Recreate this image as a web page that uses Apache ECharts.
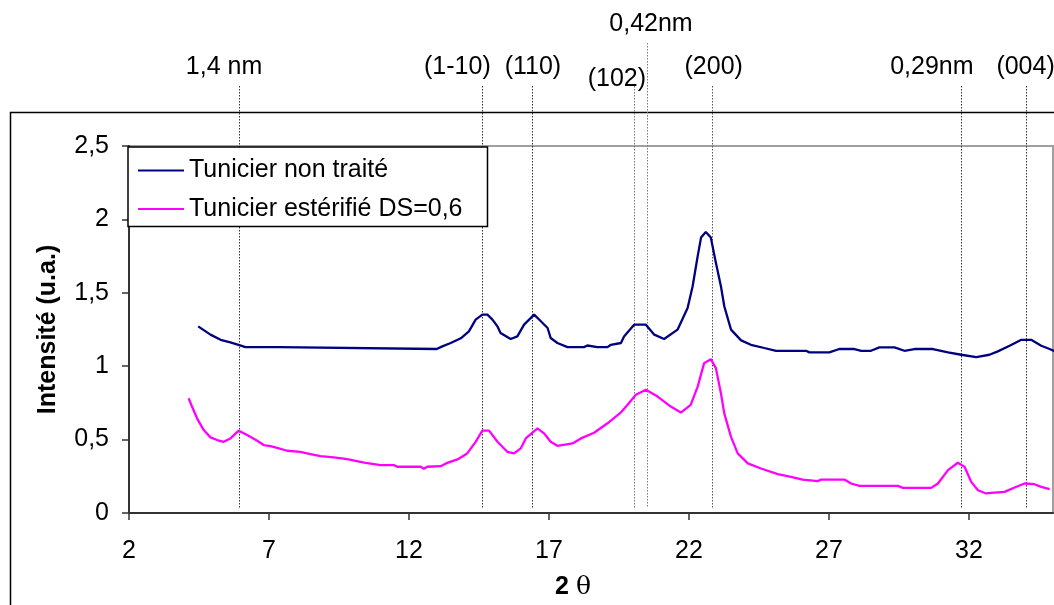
<!DOCTYPE html>
<html>
<head>
<meta charset="utf-8">
<script src="https://cdn.jsdelivr.net/npm/echarts@6/dist/echarts.min.js"></script>
<style>
html,body{margin:0;padding:0;background:#fff;}
#chart{width:1054px;height:605px;}
</style>
</head>
<body>
<div id="chart"></div>
<script>
// ---- data ----
var seriesNames = ['Tunicier non traité', 'Tunicier estérifié DS=0,6'];
var nonTraite = [[4.47,1.271],[4.91,1.215],[5.27,1.18],[5.62,1.162],[5.94,1.144],[6.16,1.13],[7.35,1.13],[7.41,1.117],[12.99,1.117],[13.19,1.135],[13.49,1.158],[13.85,1.19],[14.14,1.237],[14.38,1.317],[14.62,1.351],[14.80,1.351],[14.98,1.317],[15.16,1.271],[15.27,1.226],[15.63,1.185],[15.87,1.203],[16.11,1.283],[16.47,1.351],[16.71,1.306],[16.95,1.26],[17.06,1.192],[17.30,1.158],[17.66,1.13],[18.25,1.13],[18.37,1.141],[18.73,1.13],[19.09,1.13],[19.21,1.146],[19.57,1.158],[19.68,1.203],[20.04,1.283],[20.46,1.283],[20.76,1.215],[21.11,1.185],[21.59,1.249],[21.95,1.397],[22.13,1.545],[22.31,1.75],[22.43,1.876],[22.60,1.914],[22.78,1.876],[22.96,1.705],[23.14,1.545],[23.26,1.408],[23.50,1.249],[23.86,1.176],[24.21,1.146],[24.69,1.124],[25.11,1.105],[26.18,1.105],[26.30,1.094],[27.01,1.094],[27.37,1.117],[27.91,1.117],[28.15,1.105],[28.50,1.105],[28.80,1.128],[29.34,1.128],[29.69,1.105],[30.05,1.117],[30.71,1.117],[31.25,1.094],[31.72,1.078],[32.26,1.062],[32.73,1.078],[33.03,1.101],[33.45,1.139],[33.87,1.18],[34.22,1.18],[34.58,1.139],[34.88,1.117],[35.06,1.101]];
var esterifie = [[4.13,0.782],[4.25,0.725],[4.43,0.645],[4.67,0.565],[4.91,0.515],[5.15,0.497],[5.38,0.485],[5.62,0.508],[5.92,0.561],[6.22,0.531],[6.58,0.492],[6.81,0.463],[7.05,0.456],[7.29,0.444],[7.65,0.424],[8.12,0.417],[8.48,0.401],[8.84,0.388],[9.31,0.379],[9.79,0.367],[10.4,0.343],[10.98,0.326],[11.46,0.326],[11.58,0.315],[12.42,0.315],[12.53,0.301],[12.65,0.315],[13.13,0.319],[13.37,0.342],[13.73,0.365],[14.08,0.406],[14.38,0.485],[14.62,0.561],[14.86,0.561],[15.16,0.485],[15.51,0.417],[15.75,0.406],[15.99,0.44],[16.17,0.508],[16.59,0.577],[16.82,0.543],[17.06,0.485],[17.30,0.458],[17.84,0.474],[18.14,0.508],[18.61,0.547],[19.09,0.611],[19.57,0.686],[19.80,0.736],[20.10,0.805],[20.46,0.839],[20.88,0.793],[21.35,0.725],[21.71,0.684],[22.06,0.736],[22.31,0.861],[22.54,1.021],[22.78,1.048],[22.96,0.987],[23.14,0.816],[23.26,0.679],[23.50,0.519],[23.74,0.406],[24.10,0.338],[24.57,0.303],[25.17,0.265],[25.64,0.246],[26.06,0.228],[26.60,0.217],[26.72,0.228],[27.55,0.228],[27.79,0.201],[28.09,0.185],[29.46,0.185],[29.64,0.171],[30.65,0.171],[30.89,0.201],[31.25,0.292],[31.60,0.342],[31.84,0.315],[32.08,0.212],[32.32,0.155],[32.61,0.133],[32.79,0.137],[33.27,0.144],[33.63,0.174],[33.98,0.201],[34.34,0.196],[34.58,0.178],[34.88,0.162]];
var xTicks = [2, 7, 12, 17, 22, 27, 32];
var yTicks = [0, 0.5, 1, 1.5, 2, 2.5];
var annoX = [5.93, 14.62, 16.39, 20.03, 20.5, 22.81, 31.71, 34.02];
var annoLabels = ['1,4 nm', '(1-10)', '(110)', '(102)', '0,42nm', '(200)', '0,29nm', '(004)'];

// ---- layout for annotations (pixels) ----
var annoDx = [-15, -25, 1, -17, 4, 2, -29, 0];
var annoCy = [67, 67, 67, 79, 24, 67, 67, 67];
var annoTop = [86, 86, 86, 86, 43, 86, 86, 86];
var annoStroke = ['#333', '#333', '#333', '#777', '#777', '#555', '#333', '#333'];
var annoBottom = 508;

var FONT = '"Liberation Sans", Arial, sans-serif';
var FS = 25;
function comma(v){ return String(v).replace('.', ','); }

var chart = echarts.init(document.getElementById('chart'), null, {renderer: 'canvas'});
var option = {
  backgroundColor: '#fff',
  animation: false,
  textStyle: {fontFamily: FONT},
  graphic: [{
    type: 'rect', z: -10, silent: true,
    shape: {x: 10.5, y: 112.5, width: 1100, height: 600},
    style: {fill: 'none', stroke: '#000', lineWidth: 1.5}
  }],
  grid: {
    left: 129, right: 1, top: 146, bottom: 92,
    show: true, borderColor: '#a0a0a0', borderWidth: 2, backgroundColor: 'transparent'
  },
  legend: {
    data: [
      {name: seriesNames[0], icon: 'rect', itemStyle: {color: '#000080'}},
      {name: seriesNames[1], icon: 'rect', itemStyle: {color: '#ff00ff'}}
    ],
    orient: 'vertical',
    left: 128, top: 147,
    padding: [11, 25, 5, 10],
    itemGap: 13.5,
    itemWidth: 46, itemHeight: 2.2,
    backgroundColor: '#fff',
    borderColor: '#000', borderWidth: 1.5,
    textStyle: {fontFamily: FONT, fontSize: FS, color: '#000'}
  },
  xAxis: {
    type: 'value', min: 2, max: 35, interval: 5,
    name: '{b|2} {t|θ}', nameLocation: 'middle', nameGap: 62,
    nameTextStyle: {
      fontFamily: FONT, fontSize: FS, color: '#000', padding: [0, 36, 0, 0],
      rich: {
        b: {fontFamily: FONT, fontSize: FS, fontWeight: 'bold', color: '#000'},
        t: {fontFamily: '"DejaVu Serif", "Liberation Serif", serif', fontSize: FS, color: '#000'}
      }
    },
    axisLine: {show: true, lineStyle: {color: '#333', width: 2}},
    axisTick: {show: true, length: 7, customValues: xTicks, lineStyle: {color: '#333', width: 1.5}},
    axisLabel: {customValues: xTicks, margin: 26, fontFamily: FONT, fontSize: FS, color: '#000', formatter: comma},
    splitLine: {show: false}
  },
  yAxis: {
    type: 'value', min: 0, max: 2.5, interval: 0.5,
    name: 'Intensité (u.a.)', nameLocation: 'middle', nameGap: 68, nameRotate: 90,
    nameTextStyle: {fontFamily: FONT, fontSize: FS, fontWeight: 'bold', color: '#000'},
    axisLine: {show: true, lineStyle: {color: '#333', width: 2}},
    axisTick: {show: true, length: 7, lineStyle: {color: '#333', width: 1.5}},
    axisLabel: {margin: 20, fontFamily: FONT, fontSize: FS, color: '#000', formatter: comma},
    splitLine: {show: false}
  },
  series: [
    {
      name: seriesNames[0], type: 'line', data: nonTraite,
      symbol: 'none', lineStyle: {color: '#000080', width: 2.3}, itemStyle: {color: '#000080'}, z: 3
    },
    {
      name: seriesNames[1], type: 'line', data: esterifie,
      symbol: 'none', lineStyle: {color: '#ff00ff', width: 2.3}, itemStyle: {color: '#ff00ff'}, z: 3
    },
    {
      type: 'custom', name: 'annotations', clip: false, z: 1, silent: true,
      data: annoX.map(function(x, i){ return [x, 0, i]; }),
      renderItem: function(params, api){
        var i = api.value(2);
        var p = api.coord([api.value(0), 0]);
        var x = Math.round(p[0]) + 0.5;
        return {
          type: 'group',
          children: [
            {type: 'line', shape: {x1: x, y1: annoTop[i], x2: x, y2: annoBottom},
             style: {stroke: annoStroke[i], lineWidth: 1, lineDash: [1.5, 1.5]}},
            {type: 'text', x: p[0] + annoDx[i], y: annoCy[i],
             style: {text: annoLabels[i], fill: '#000', fontFamily: FONT, fontSize: FS, align: 'center', verticalAlign: 'middle'}}
          ]
        };
      }
    }
  ]
};
chart.setOption(option);
</script>
</body>
</html>
